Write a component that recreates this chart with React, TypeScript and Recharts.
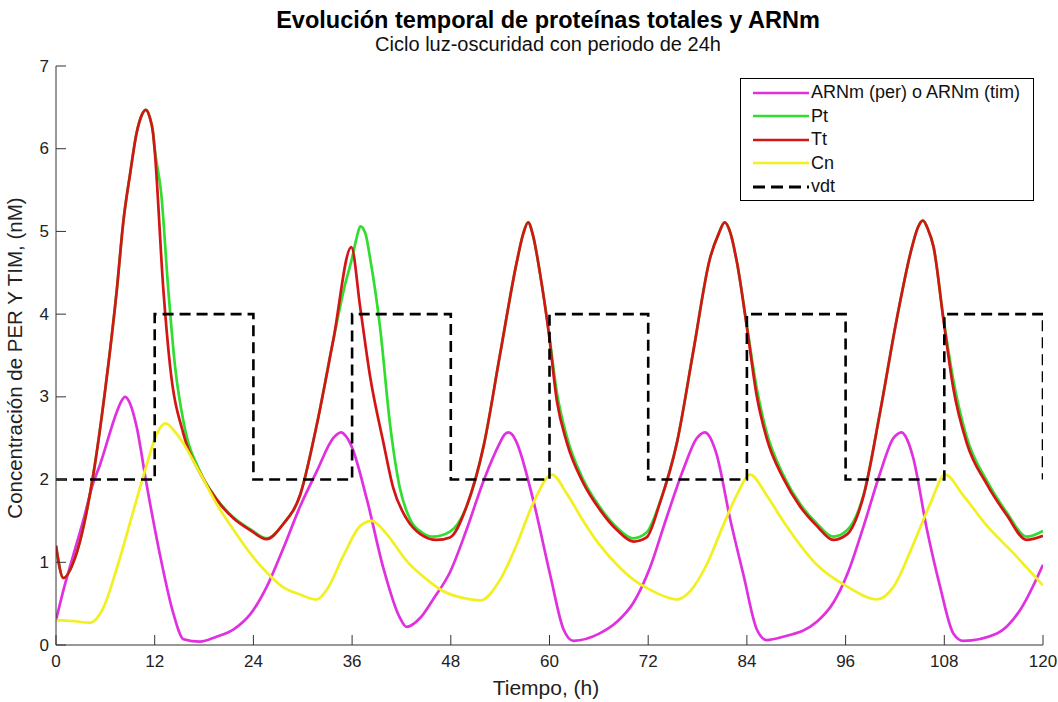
import React from 'react';
import { LineChart, Line, XAxis, YAxis, Legend } from 'recharts';

// the body margin is drawn by our own padding so that nothing spills outside #root
if (typeof document !== 'undefined') document.body.style.margin = '0';

// Tiempo (h) y concentraciones
const tArnm = [0, 1, 2, 3.3, 4.5, 5.35, 7.4, 7.9, 8.4, 9.0, 9.8, 11.0, 12.6, 14.3, 15.5, 17.5, 19.5, 21.6, 23.6, 25.6, 27.6, 29.7, 31.7, 33.7, 34.2, 34.7, 35.2, 35.9, 37.8, 39.8, 41.8, 42.6, 44.3, 45.9, 47.9, 49.9, 52.0, 54.0, 54.5, 55.0, 55.5, 56.0, 58.0, 60.1, 61.7, 62.9, 66.1, 68.2, 70.2, 72.2, 74.2, 76.3, 77.9, 78.4, 78.9, 79.4, 80.3, 81.95, 83.6, 85.2, 86.4, 88.4, 92.5, 94.5, 96.3, 98.2, 100.2, 101.8, 102.3, 102.8, 103.3, 104.2, 105.9, 107.5, 109.1, 110.3, 114.4, 117.2, 120];
const arnm = [0.3, 0.7, 1.05, 1.5, 1.95, 2.18, 2.82, 2.94, 3.0, 2.92, 2.64, 1.95, 1.11, 0.37, 0.07, 0.04, 0.1, 0.19, 0.37, 0.7, 1.16, 1.68, 2.1, 2.5, 2.55, 2.57, 2.53, 2.41, 1.76, 0.93, 0.33, 0.22, 0.33, 0.56, 0.88, 1.39, 1.99, 2.45, 2.54, 2.57, 2.54, 2.45, 1.76, 0.84, 0.19, 0.05, 0.14, 0.28, 0.51, 0.93, 1.53, 2.13, 2.5, 2.55, 2.57, 2.53, 2.31, 1.53, 0.84, 0.19, 0.06, 0.1, 0.28, 0.51, 0.88, 1.44, 2.08, 2.5, 2.55, 2.57, 2.52, 2.27, 1.39, 0.7, 0.14, 0.05, 0.14, 0.42, 0.97];

const tPt = [0, 0.9, 2.3, 4.5, 6.0, 7.4, 8.2, 9.0, 9.8, 10.4, 10.9, 11.4, 11.8, 12.0, 12.8, 13.65, 14.46, 15.6, 17.5, 19.5, 21.6, 23.6, 25.6, 27.6, 29.7, 31.7, 33.7, 35.0, 36.0, 36.5, 37.0, 37.6, 38.2, 39.4, 40.6, 41.8, 43.0, 44.5, 45.9, 47.9, 49.9, 52.0, 54.0, 56.0, 56.8, 57.4, 58.0, 58.85, 59.9, 60.9, 62.1, 64.1, 66.1, 68.2, 70.2, 71.8, 73.4, 75.5, 77.5, 79.5, 80.6, 81.3, 82.0, 82.8, 84.0, 85.2, 86.4, 88.4, 90.5, 92.5, 94.5, 96.2, 98.2, 100.2, 102.2, 104.2, 104.8, 105.4, 106.0, 106.7, 107.9, 109.1, 110.7, 113.2, 115.6, 118.0, 120];
const pt = [1.2, 0.81, 1.05, 2.04, 3.1, 4.3, 5.13, 5.69, 6.19, 6.4, 6.47, 6.38, 6.19, 6.0, 5.45, 4.3, 3.38, 2.65, 2.1, 1.77, 1.54, 1.4, 1.29, 1.46, 1.82, 2.66, 3.68, 4.3, 4.68, 4.9, 5.06, 4.98, 4.67, 3.84, 2.68, 1.9, 1.53, 1.36, 1.31, 1.37, 1.67, 2.41, 3.52, 4.62, 4.97, 5.11, 4.95, 4.49, 3.8, 3.05, 2.52, 2.0, 1.67, 1.42, 1.29, 1.36, 1.72, 2.45, 3.56, 4.67, 4.98, 5.11, 4.98, 4.62, 3.86, 3.1, 2.57, 2.06, 1.7, 1.47, 1.31, 1.39, 1.82, 2.82, 3.93, 4.86, 5.05, 5.13, 5.03, 4.81, 3.95, 3.2, 2.52, 1.98, 1.6, 1.31, 1.38];

const tTt = [0, 0.9, 2.3, 4.5, 6.0, 7.4, 8.2, 9.0, 9.8, 10.4, 10.9, 11.4, 11.8, 12.0, 13.05, 13.86, 15.5, 17.5, 19.5, 21.6, 23.6, 25.6, 27.6, 29.7, 31.7, 33.7, 35.9, 37.0, 38.2, 39.8, 41.0, 42.6, 44.3, 46.3, 47.9, 49.9, 52.0, 54.0, 56.0, 56.8, 57.4, 58.0, 58.85, 59.9, 60.9, 62.1, 64.1, 66.1, 68.2, 70.2, 71.8, 73.4, 75.5, 77.5, 79.5, 80.6, 81.3, 82.0, 82.8, 84.0, 85.2, 86.4, 88.4, 90.5, 92.5, 94.5, 96.2, 98.2, 100.2, 102.2, 104.2, 104.8, 105.4, 106.0, 106.7, 107.9, 109.1, 110.7, 113.2, 115.6, 118.0, 120];
const tt = [1.2, 0.81, 1.05, 2.04, 3.1, 4.3, 5.13, 5.69, 6.19, 6.4, 6.47, 6.38, 6.19, 5.98, 4.3, 3.38, 2.55, 2.08, 1.76, 1.53, 1.39, 1.28, 1.46, 1.82, 2.66, 3.68, 4.81, 4.07, 3.24, 2.45, 1.9, 1.53, 1.34, 1.27, 1.3, 1.67, 2.41, 3.52, 4.62, 4.97, 5.11, 4.95, 4.49, 3.78, 2.95, 2.45, 1.96, 1.64, 1.39, 1.25, 1.3, 1.71, 2.45, 3.56, 4.67, 4.98, 5.11, 4.98, 4.62, 3.84, 3.01, 2.5, 2.02, 1.67, 1.44, 1.27, 1.34, 1.81, 2.82, 3.93, 4.86, 5.05, 5.13, 5.03, 4.81, 3.93, 3.1, 2.45, 1.94, 1.57, 1.27, 1.32];

const tCn = [0, 2, 4.1, 5.75, 7.4, 9.4, 11.0, 12.24, 13.3, 14.7, 17.5, 19.5, 21.6, 23.6, 25.6, 27.6, 29.7, 31.7, 33.0, 34.9, 37.0, 38.4, 40.2, 42.6, 45.1, 47.1, 49.9, 51.6, 54.0, 56.0, 58.0, 60.3, 62.1, 64.1, 66.1, 68.2, 70.2, 72.2, 74.2, 75.5, 77.1, 79.1, 81.1, 82.75, 84.4, 86.4, 88.4, 92.5, 96.3, 99.8, 101.8, 104.2, 106.3, 108.1, 110.3, 113.2, 116.4, 120];
const cn = [0.3, 0.29, 0.27, 0.45, 0.93, 1.62, 2.17, 2.55, 2.68, 2.55, 2.08, 1.71, 1.39, 1.11, 0.88, 0.7, 0.61, 0.55, 0.68, 1.07, 1.44, 1.5, 1.34, 1.02, 0.79, 0.65, 0.56, 0.54, 0.79, 1.21, 1.71, 2.06, 1.83, 1.5, 1.21, 0.97, 0.79, 0.67, 0.58, 0.55, 0.65, 0.97, 1.44, 1.81, 2.06, 1.81, 1.5, 0.97, 0.7, 0.55, 0.7, 1.21, 1.71, 2.06, 1.81, 1.44, 1.11, 0.72];

// ciclo luz-oscuridad (escalon cada 12 h)
const tVdt = [0, 12, 24, 36, 48, 60, 72, 84, 96, 108, 120];
const vdt = [2, 4, 2, 4, 2, 4, 2, 4, 2, 4, 2];

const xTicks = [0, 12, 24, 36, 48, 60, 72, 84, 96, 108, 120];
const yTicks = [0, 1, 2, 3, 4, 5, 6, 7];

const seriesNames = ['ARNm (per) o ARNm (tim)', 'Pt', 'Tt', 'Cn', 'vdt'];
const seriesColors = ['#e030e0', '#30dd30', '#d41515', '#f2f020', '#000000'];

const zip = (ts: number[], vs: number[]) => ts.map((t, i) => ({ t, v: vs[i] }));

const FONT = '"Liberation Sans", Arial, Helvetica, sans-serif';
const AXIS = '#333333';
const TICK_LEN = 10;

const BottomTick = (props: any) => {
  const { x, y, payload } = props;
  return (
    <g>
      <line x1={x} y1={y} x2={x} y2={y - TICK_LEN} stroke={AXIS} />
      <text x={x} y={y + 16} textAnchor="middle" dominantBaseline="central" fontSize={17} fill="#222" fontFamily={FONT}>
        {payload.value}
      </text>
    </g>
  );
};

const LeftTick = (props: any) => {
  const { x, y, payload } = props;
  return (
    <g>
      <line x1={x} y1={y} x2={x + TICK_LEN} y2={y} stroke={AXIS} />
      <text x={x - 7} y={y} textAnchor="end" dominantBaseline="central" fontSize={17} fill="#222" fontFamily={FONT}>
        {payload.value}
      </text>
    </g>
  );
};

const TopTick = (props: any) => {
  const { x, y } = props;
  return <line x1={x} y1={y} x2={x} y2={y + TICK_LEN} stroke={AXIS} />;
};

const RightTick = (props: any) => {
  const { x, y } = props;
  return <line x1={x} y1={y} x2={x - TICK_LEN} y2={y} stroke={AXIS} />;
};

const LegendBox = () => (
  <div style={{ border: '1px solid #000', background: '#fff', width: 294, height: 123, boxSizing: 'border-box', paddingTop: 2, fontFamily: FONT }}>
    {seriesNames.map((name, i) => (
      <div key={name} style={{ display: 'flex', alignItems: 'center', height: 23.5 }}>
        <svg width={70} height={10} style={{ marginLeft: 10 }}>
          <line x1={2} y1={5} x2={58} y2={5} stroke={seriesColors[i]} strokeWidth={i === 4 ? 3 : 2.5} strokeDasharray={i === 4 ? '12 6' : undefined} />
        </svg>
        <span style={{ fontSize: 18, color: '#111', marginLeft: -10 }}>{name}</span>
      </div>
    ))}
  </div>
);

function App() {
  return (
    <div style={{ width: 1058, height: 702, padding: 8, boxSizing: 'border-box', background: '#fff' }}>
      <div style={{ position: 'relative', width: 1050, height: 694, fontFamily: FONT }}>
        <div style={{ position: 'absolute', left: 540, top: 0, transform: 'translateX(-50%)', whiteSpace: 'nowrap', fontSize: 23.5, fontWeight: 'bold', lineHeight: '24px', color: '#000' }}>
          Evolución temporal de proteínas totales y ARNm
        </div>
        <div style={{ position: 'absolute', left: 540, top: 25, transform: 'translateX(-50%)', whiteSpace: 'nowrap', fontSize: 20, lineHeight: '22px', color: '#111' }}>
          Ciclo luz-oscuridad con periodo de 24h
        </div>
        <div style={{ position: 'absolute', left: 7, top: 350, transform: 'translate(-50%, -50%) rotate(-90deg)', whiteSpace: 'nowrap', fontSize: 20.5, color: '#222' }}>
          Concentración de PER Y TIM, (nM)
        </div>
        <div style={{ position: 'absolute', left: 538, top: 680, transform: 'translate(-50%, -50%)', whiteSpace: 'nowrap', fontSize: 21, color: '#222' }}>
          Tiempo, (h)
        </div>
        <LineChart width={1050} height={694} margin={{ top: 58, right: 15, bottom: 27, left: 8 }} style={{ overflow: 'visible' }}>
          <XAxis dataKey="t" type="number" domain={[0, 120]} ticks={xTicks} interval={0} height={30}
            tickSize={0} tickMargin={0} tickLine={false} axisLine={{ stroke: AXIS }} tick={BottomTick} allowDataOverflow />
          <XAxis xAxisId="top" orientation="top" dataKey="t" type="number" domain={[0, 120]} ticks={xTicks} interval={0} height={0}
            tickSize={0} tickMargin={0} tickLine={false} axisLine={{ stroke: AXIS }} tick={TopTick} allowDataOverflow />
          <YAxis type="number" domain={[0, 7]} ticks={yTicks} interval={0} width={40}
            tickSize={0} tickMargin={0} tickLine={false} axisLine={{ stroke: AXIS }} tick={LeftTick} allowDataOverflow />
          <YAxis yAxisId="right" orientation="right" type="number" domain={[0, 7]} ticks={yTicks} interval={0} width={0}
            tickSize={0} tickMargin={0} tickLine={false} axisLine={{ stroke: AXIS }} tick={RightTick} allowDataOverflow />
          <Legend layout="vertical" align="center" verticalAlign="middle" content={LegendBox}
            wrapperStyle={{ left: 732, top: 70, width: 294, height: 123 }} />
          <Line data={zip(tArnm, arnm)} dataKey="v" name={seriesNames[0]} type="monotone" stroke={seriesColors[0]} strokeWidth={2.7} dot={false} activeDot={false} isAnimationActive={false} />
          <Line data={zip(tPt, pt)} dataKey="v" name={seriesNames[1]} type="monotone" stroke={seriesColors[1]} strokeWidth={2.7} dot={false} activeDot={false} isAnimationActive={false} />
          <Line data={zip(tTt, tt)} dataKey="v" name={seriesNames[2]} type="monotone" stroke={seriesColors[2]} strokeWidth={2.7} dot={false} activeDot={false} isAnimationActive={false} />
          <Line data={zip(tCn, cn)} dataKey="v" name={seriesNames[3]} type="monotone" stroke={seriesColors[3]} strokeWidth={2.7} dot={false} activeDot={false} isAnimationActive={false} />
          <Line data={zip(tVdt, vdt)} dataKey="v" name={seriesNames[4]} type="stepAfter" stroke={seriesColors[4]} strokeWidth={2.6} strokeDasharray="11 6" dot={false} activeDot={false} isAnimationActive={false} />
        </LineChart>
      </div>
    </div>
  );
}

export default App;
